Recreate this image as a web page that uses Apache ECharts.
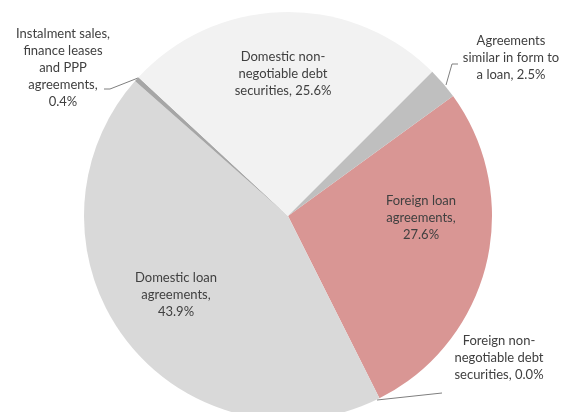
<!DOCTYPE html>
<html>
<head>
<meta charset="utf-8">
<script src="https://cdn.jsdelivr.net/npm/echarts@6/dist/echarts.min.js"></script>
<style>
html,body{margin:0;padding:0;background:#fff;}
#chart{width:568px;height:412px;}
</style>
</head>
<body>
<div id="chart"></div>
<script>
// Data (clockwise order starting from "Foreign loan agreements")
var categories = [
  'Foreign loan agreements',
  'Foreign non-negotiable debt securities',
  'Domestic loan agreements',
  'Instalment sales, finance leases and PPP agreements',
  'Domestic non-negotiable debt securities',
  'Agreements similar in form to a loan'
];
var values = [27.6, 0.0, 43.9, 0.4, 25.6, 2.5];
var labelTemplates = [
  'Foreign loan\nagreements,\n{v}%',
  'Foreign non-\nnegotiable debt\nsecurities, {v}%',
  'Domestic loan\nagreements,\n{v}%',
  'Instalment sales,\nfinance leases\nand PPP\nagreements,\n{v}%',
  'Domestic non-\nnegotiable debt\nsecurities, {v}%',
  'Agreements\nsimilar in form to\na loan, {v}%'
];

// Styling / positions
var colors = ['#D99694', '#C0504D', '#D9D9D9', '#A6A6A6', '#F2F2F2', '#BFBFBF'];
var labelPos = [
  {x: 421, y: 218},
  {x: 499, y: 358, line: [[377, 400], [442, 393]]},
  {x: 176, y: 295},
  {x: 63, y: 68, line: [[138, 78], [110, 89], [104, 89]]},
  {x: 283, y: 74},
  {x: 511, y: 58}
];
// leader line for the "Agreements" label (decoration)
var agreementsLeader = [[446, 85], [452, 64], [458, 64]];

var data = categories.map(function (c, i) {
  return {
    name: c,
    value: values[i],
    itemStyle: {color: colors[i]},
    labelLine: {show: !!labelPos[i].line}
  };
});

var chart = echarts.init(document.getElementById('chart'));
chart.setOption({
  animation: false,
  series: [{
    type: 'pie',
    center: [288, 216],
    radius: 204,
    startAngle: 36,
    clockwise: true,
    avoidLabelOverlap: false,
    data: data,
    itemStyle: {borderWidth: 0},
    label: {
      show: true,
      position: 'outside',
      color: '#404040',
      fontFamily: 'Lato',
      fontSize: 13,
      lineHeight: 17,
      align: 'center',
      overflow: 'none',
      width: 200,
      formatter: function (p) {
        return labelTemplates[p.dataIndex].replace('{v}', p.value.toFixed(1));
      }
    },
    labelLine: {show: true, lineStyle: {color: '#7F7F7F', width: 1}},
    labelLayout: function (p) {
      var lp = labelPos[p.dataIndex];
      var r = {x: lp.x, y: lp.y, align: 'center', verticalAlign: 'middle'};
      if (lp.line) r.labelLinePoints = lp.line;
      return r;
    }
  }],
  graphic: {
    elements: [{
      type: 'polyline',
      silent: true,
      z: 100,
      shape: {points: agreementsLeader},
      style: {stroke: '#7F7F7F', lineWidth: 1, fill: 'none'}
    }]
  }
});
</script>
</body>
</html>
